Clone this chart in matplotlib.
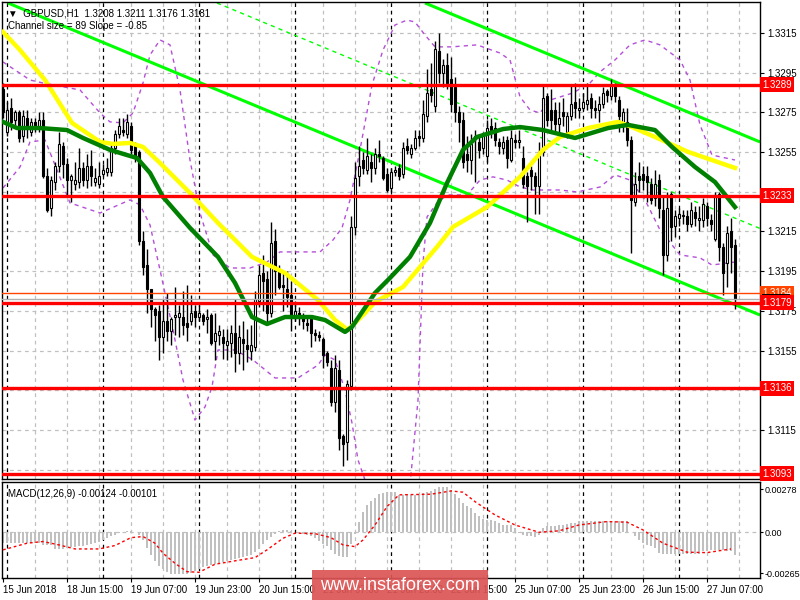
import matplotlib
matplotlib.use("Agg")
import matplotlib.pyplot as plt
from matplotlib.patches import Rectangle
import matplotlib.transforms as mtransforms
import numpy as np

plt.rcParams["font.family"] = ["Liberation Sans", "DejaVu Sans"]
plt.rcParams["font.size"] = 7

# GBPUSD H1 candles, one entry per bar (bar 0 = 15 Jun 23:00)
opens = [1.3287, 1.3265, 1.3277, 1.3271, 1.3275, 1.3263, 1.3272, 1.3265, 1.3270, 1.3267,
         1.3271, 1.3243, 1.3227, 1.3240, 1.3248, 1.3258, 1.3249, 1.3241, 1.3239, 1.3240,
         1.3247, 1.3241, 1.3248, 1.3240, 1.3239, 1.3244, 1.3245, 1.3245, 1.3257, 1.3264,
         1.3266, 1.3264, 1.3268, 1.3258, 1.3255, 1.3210, 1.3198, 1.3186, 1.3176, 1.3175,
         1.3162, 1.3170, 1.3165, 1.3172, 1.3172, 1.3172, 1.3169, 1.3170, 1.3175, 1.3172,
         1.3173, 1.3171, 1.3173, 1.3160, 1.3163, 1.3162, 1.3158, 1.3159, 1.3164, 1.3154,
         1.3161, 1.3158, 1.3155, 1.3157, 1.3180, 1.3194, 1.3191, 1.3174, 1.3210, 1.3195,
         1.3188, 1.3186, 1.3183, 1.3172, 1.3174, 1.3172, 1.3169, 1.3171, 1.3164, 1.3163,
         1.3161, 1.3154, 1.3146, 1.3129, 1.3145, 1.3112, 1.3109, 1.3137, 1.3217, 1.3243,
         1.3251, 1.3246, 1.3250, 1.3247, 1.3254, 1.3252, 1.3244, 1.3237, 1.3245, 1.3247,
         1.3244, 1.3258, 1.3254, 1.3257, 1.3263, 1.3262, 1.3273, 1.3287, 1.3278, 1.3306,
         1.3295, 1.3299, 1.3292, 1.3288, 1.3275, 1.3271, 1.3254, 1.3251, 1.3262, 1.3260,
         1.3257, 1.3253, 1.3268, 1.3267, 1.3260, 1.3257, 1.3261, 1.3251, 1.3261, 1.3260,
         1.3252, 1.3243, 1.3246, 1.3243, 1.3238, 1.3255, 1.3283, 1.3276, 1.3276, 1.3269,
         1.3275, 1.3265, 1.3273, 1.3280, 1.3276, 1.3277, 1.3279, 1.3282, 1.3277, 1.3276,
         1.3279, 1.3286, 1.3283, 1.3288, 1.3281, 1.3269, 1.3270, 1.3261, 1.3230, 1.3243,
         1.3244, 1.3243, 1.3239, 1.3232, 1.3241, 1.3226, 1.3203, 1.3234, 1.3218, 1.3222,
         1.3223, 1.3223, 1.3219, 1.3225, 1.3221, 1.3221, 1.3228, 1.3221, 1.3211, 1.3234,
         1.3207, 1.3199, 1.3215, 1.3208]
highs = [1.3290, 1.3280, 1.3282, 1.3276, 1.3276, 1.3276, 1.3276, 1.3272, 1.3272, 1.3275,
         1.3275, 1.3247, 1.3243, 1.3250, 1.3265, 1.3260, 1.3252, 1.3244, 1.3250, 1.3257,
         1.3250, 1.3254, 1.3256, 1.3247, 1.3250, 1.3249, 1.3252, 1.3260, 1.3266, 1.3272,
         1.3272, 1.3274, 1.3270, 1.3260, 1.3256, 1.3215, 1.3206, 1.3186, 1.3177, 1.3178,
         1.3181, 1.3184, 1.3172, 1.3187, 1.3178, 1.3185, 1.3188, 1.3183, 1.3178, 1.3178,
         1.3174, 1.3176, 1.3174, 1.3174, 1.3168, 1.3166, 1.3166, 1.3168, 1.3181, 1.3168,
         1.3170, 1.3166, 1.3168, 1.3185, 1.3198, 1.3203, 1.3195, 1.3220, 1.3216, 1.3198,
         1.3194, 1.3195, 1.3190, 1.3180, 1.3177, 1.3174, 1.3172, 1.3172, 1.3166, 1.3165,
         1.3162, 1.3155, 1.3150, 1.3153, 1.3150, 1.3113, 1.3140, 1.3223, 1.3250, 1.3258,
         1.3255, 1.3262, 1.3254, 1.3257, 1.3261, 1.3253, 1.3247, 1.3247, 1.3248, 1.3249,
         1.3260, 1.3262, 1.3259, 1.3266, 1.3266, 1.3281, 1.3297, 1.3300, 1.3311, 1.3315,
         1.3302, 1.3305, 1.3303, 1.3293, 1.3278, 1.3275, 1.3263, 1.3264, 1.3266, 1.3263,
         1.3265, 1.3271, 1.3272, 1.3270, 1.3262, 1.3263, 1.3263, 1.3266, 1.3264, 1.3266,
         1.3258, 1.3245, 1.3248, 1.3245, 1.3260, 1.3289, 1.3285, 1.3287, 1.3280, 1.3280,
         1.3282, 1.3275, 1.3289, 1.3290, 1.3282, 1.3285, 1.3290, 1.3285, 1.3281, 1.3283,
         1.3288, 1.3287, 1.3292, 1.3290, 1.3283, 1.3277, 1.3277, 1.3263, 1.3245, 1.3250,
         1.3248, 1.3248, 1.3242, 1.3246, 1.3244, 1.3233, 1.3235, 1.3235, 1.3226, 1.3227,
         1.3226, 1.3226, 1.3230, 1.3228, 1.3228, 1.3232, 1.3230, 1.3224, 1.3235, 1.3235,
         1.3209, 1.3218, 1.3222, 1.3211]
lows = [1.3272, 1.3263, 1.3266, 1.3268, 1.3260, 1.3260, 1.3262, 1.3263, 1.3265, 1.3265,
        1.3242, 1.3225, 1.3223, 1.3236, 1.3245, 1.3242, 1.3233, 1.3230, 1.3236, 1.3237,
        1.3238, 1.3237, 1.3238, 1.3238, 1.3237, 1.3243, 1.3243, 1.3243, 1.3254, 1.3262,
        1.3263, 1.3262, 1.3254, 1.3250, 1.3208, 1.3193, 1.3174, 1.3167, 1.3160, 1.3150,
        1.3154, 1.3160, 1.3158, 1.3163, 1.3162, 1.3163, 1.3160, 1.3168, 1.3167, 1.3170,
        1.3168, 1.3164, 1.3158, 1.3150, 1.3158, 1.3151, 1.3150, 1.3152, 1.3144, 1.3148,
        1.3145, 1.3149, 1.3150, 1.3155, 1.3177, 1.3175, 1.3168, 1.3172, 1.3183, 1.3186,
        1.3175, 1.3177, 1.3165, 1.3170, 1.3168, 1.3166, 1.3165, 1.3157, 1.3160, 1.3160,
        1.3146, 1.3147, 1.3127, 1.3124, 1.3105, 1.3097, 1.3100, 1.3135, 1.3213, 1.3238,
        1.3244, 1.3244, 1.3240, 1.3244, 1.3250, 1.3241, 1.3235, 1.3235, 1.3243, 1.3241,
        1.3242, 1.3254, 1.3252, 1.3256, 1.3258, 1.3260, 1.3270, 1.3280, 1.3275, 1.3290,
        1.3288, 1.3287, 1.3275, 1.3270, 1.3260, 1.3247, 1.3245, 1.3244, 1.3240, 1.3252,
        1.3254, 1.3250, 1.3262, 1.3258, 1.3254, 1.3254, 1.3247, 1.3250, 1.3257, 1.3257,
        1.3237, 1.3220, 1.3236, 1.3224, 1.3224, 1.3253, 1.3268, 1.3265, 1.3264, 1.3262,
        1.3268, 1.3262, 1.3271, 1.3272, 1.3272, 1.3276, 1.3276, 1.3272, 1.3272, 1.3270,
        1.3277, 1.3280, 1.3281, 1.3280, 1.3265, 1.3265, 1.3258, 1.3204, 1.3228, 1.3235,
        1.3236, 1.3230, 1.3229, 1.3228, 1.3222, 1.3193, 1.3200, 1.3210, 1.3212, 1.3218,
        1.3219, 1.3215, 1.3217, 1.3218, 1.3215, 1.3217, 1.3218, 1.3215, 1.3210, 1.3200,
        1.3183, 1.3187, 1.3194, 1.3176]
closes = [1.3275, 1.3276, 1.3270, 1.3275, 1.3262, 1.3273, 1.3267, 1.3270, 1.3267, 1.3271,
          1.3243, 1.3226, 1.3241, 1.3248, 1.3259, 1.3249, 1.3241, 1.3243, 1.3241, 1.3247,
          1.3241, 1.3248, 1.3243, 1.3242, 1.3243, 1.3246, 1.3247, 1.3257, 1.3264, 1.3268,
          1.3265, 1.3270, 1.3256, 1.3252, 1.3210, 1.3197, 1.3186, 1.3176, 1.3173, 1.3162,
          1.3170, 1.3165, 1.3171, 1.3173, 1.3174, 1.3168, 1.3167, 1.3174, 1.3172, 1.3174,
          1.3170, 1.3172, 1.3159, 1.3164, 1.3165, 1.3159, 1.3160, 1.3164, 1.3154, 1.3162,
          1.3159, 1.3156, 1.3158, 1.3181, 1.3193, 1.3190, 1.3174, 1.3209, 1.3195, 1.3187,
          1.3187, 1.3182, 1.3172, 1.3175, 1.3172, 1.3170, 1.3168, 1.3164, 1.3163, 1.3162,
          1.3153, 1.3149, 1.3129, 1.3146, 1.3111, 1.3108, 1.3138, 1.3217, 1.3242, 1.3248,
          1.3247, 1.3253, 1.3247, 1.3254, 1.3253, 1.3242, 1.3236, 1.3245, 1.3246, 1.3243,
          1.3257, 1.3256, 1.3257, 1.3262, 1.3262, 1.3274, 1.3285, 1.3284, 1.3307, 1.3295,
          1.3299, 1.3290, 1.3279, 1.3275, 1.3270, 1.3250, 1.3251, 1.3259, 1.3263, 1.3256,
          1.3264, 1.3267, 1.3266, 1.3261, 1.3258, 1.3260, 1.3252, 1.3262, 1.3260, 1.3261,
          1.3239, 1.3238, 1.3243, 1.3238, 1.3255, 1.3282, 1.3271, 1.3271, 1.3269, 1.3272,
          1.3273, 1.3273, 1.3279, 1.3277, 1.3277, 1.3280, 1.3281, 1.3277, 1.3276, 1.3279,
          1.3285, 1.3284, 1.3289, 1.3283, 1.3273, 1.3275, 1.3261, 1.3231, 1.3239, 1.3241,
          1.3241, 1.3240, 1.3231, 1.3239, 1.3227, 1.3203, 1.3227, 1.3217, 1.3223, 1.3224,
          1.3223, 1.3219, 1.3226, 1.3222, 1.3222, 1.3229, 1.3222, 1.3219, 1.3233, 1.3207,
          1.3194, 1.3214, 1.3207, 1.3181]

yellow_bars = [0, 4.25, 10.5, 17.25, 24.25, 27.5, 31.75, 35, 39.25, 46.75, 53.75, 62.25, 70.5,
               78.75, 83, 86.25, 90.5, 93, 100, 108.5, 112.5, 121, 129.25, 135, 139.25,
               146.25, 153.75, 157.25, 163, 171.25, 183]
yellow_vals = [1.33155, 1.33064, 1.32913, 1.32697, 1.32601, 1.32591, 1.32596, 1.32576, 1.32495,
               1.32344, 1.32193, 1.32022, 1.31941, 1.31805, 1.31704, 1.31654, 1.31739, 1.31795,
               1.31870, 1.32072, 1.32173, 1.32273, 1.32425, 1.32561, 1.32626, 1.32671, 1.32702,
               1.32676, 1.32626, 1.32551, 1.32470]
green_bars = [0, 3.5, 9.25, 16, 20, 26.75, 31, 33.5, 36.75, 40, 46.75, 53.75, 58, 62.25, 66,
              70.5, 77.25, 80.5, 85.5, 87.25, 93, 96.75, 101.75, 106.75, 111, 115, 118.5, 125,
              129.25, 135, 143, 151.25, 156.25, 163, 167.25, 173, 178, 183]
green_vals = [1.32702, 1.32671, 1.32671, 1.32661, 1.32621, 1.32561, 1.32535, 1.32520, 1.32445,
              1.32324, 1.32168, 1.32022, 1.31891, 1.31719, 1.31684, 1.31719, 1.31719, 1.31704,
              1.31644, 1.31669, 1.31840, 1.31916, 1.32022, 1.32193, 1.32394, 1.32561, 1.32626,
              1.32666, 1.32676, 1.32661, 1.32621, 1.32671, 1.32687, 1.32661, 1.32576, 1.32475,
              1.32399, 1.32273]

upper_bars = [0, 6.75, 10, 19.25, 24.25, 26.75, 30, 32.5, 35, 36.75, 39.25, 41.75, 44.25,
              46.75, 49.25, 52.5, 56.75, 61.75, 66, 69.25, 74.25, 79.25, 82.5, 84.75, 86.75,
              89.25, 92.25, 95, 98, 101, 103, 105.5, 108, 112.25, 118.5, 124.25, 126.75,
              129.25, 131.75, 134.25, 136.75, 142.5, 146.75, 149.25, 153, 156.75, 160.5,
              164.25, 169.25, 171.75, 174.25, 177.25, 183]
upper_vals = [1.33004, 1.32913, 1.32898, 1.32863, 1.32747, 1.32702, 1.32697, 1.32747, 1.32898,
              1.33039, 1.33115, 1.33090, 1.32863, 1.32510, 1.32243, 1.32032, 1.31966, 1.31966,
              1.31996, 1.32047, 1.32047, 1.32047, 1.32107, 1.32168, 1.32309, 1.32561, 1.32888,
              1.33064, 1.33190, 1.33215, 1.33205, 1.33140, 1.33080, 1.33080, 1.33090, 1.33049,
              1.33014, 1.32828, 1.32762, 1.32747, 1.32812, 1.32848, 1.32898, 1.32954, 1.33014,
              1.33090, 1.33115, 1.33090, 1.33014, 1.32913, 1.32687, 1.32535, 1.32510]
lower_bars = [0, 4.25, 6.75, 10.5, 13, 16.75, 24.25, 31.75, 34.25, 36.75, 39.25, 42.5, 45, 48,
              50.5, 52.25, 53.75, 58, 62.5, 68, 73.75, 78.75, 80.5, 83, 85.5, 87.25, 88.75,
              90.5, 94.25, 101.75, 103.75, 105, 106, 108.5, 111, 116, 119.25, 122.5, 126,
              129.25, 132.5, 139.25, 143.5, 149.25, 153, 156.75, 160.5, 164.25, 169.25,
              174.25, 177.25, 183]
lower_vals = [1.32369, 1.32475, 1.32601, 1.32611, 1.32485, 1.32294, 1.32243, 1.32309, 1.32284,
              1.32183, 1.31956, 1.31654, 1.31402, 1.31200, 1.31266, 1.31367, 1.31553, 1.31553,
              1.31503, 1.31412, 1.31412, 1.31477, 1.31528, 1.31503, 1.31352, 1.31185, 1.30999,
              1.30898, 1.30873, 1.30873, 1.31301, 1.31991, 1.32223, 1.32294, 1.32334, 1.32334,
              1.32409, 1.32425, 1.32409, 1.32374, 1.32359, 1.32359, 1.32349, 1.32374, 1.32435,
              1.32409, 1.32309, 1.32158, 1.32032, 1.32017, 1.31981, 1.31996]

# channel (two parallel lines plus the dashed mid line), end points
chan_low_bars = [1.25, 189.25]
chan_low_vals = [1.33301, 1.31729]
chan_up_bars = [105.5, 189.25]
chan_up_vals = [1.33301, 1.32601]
chan_mid_bars = [53.5, 189.25]
chan_mid_vals = [1.33301, 1.32165]

# horizontal levels
red_levels = [1.3289, 1.3233, 1.3179, 1.3136, 1.3093]
orange_level = 1.3184
bid_level = 1.3181

# MACD histogram, one value per bar
macd_hist = [-0.00071, -0.00071, -0.00071, -0.00071, -0.00071, -0.00071, -0.00071, -0.00071,
             -0.00071, -0.00071, -0.00084, -0.00084, -0.00084, -0.00110, -0.00110, -0.00110,
             -0.00104, -0.00097, -0.00097, -0.00091, -0.00091, -0.00084, -0.00078, -0.00071,
             -0.00065, -0.00052, -0.00039, -0.00026, -0.00019, -0.00006, 0.0, 0.00006, 0.00006,
             0.0, -0.00019, -0.00052, -0.00104, -0.00149, -0.00188, -0.00220, -0.00239,
             -0.00259, -0.00272, -0.00272, -0.00272, -0.00272, -0.00272, -0.00265, -0.00252,
             -0.00239, -0.00226, -0.00220, -0.00214, -0.00207, -0.00201, -0.00194, -0.00188,
             -0.00181, -0.00175, -0.00168, -0.00162, -0.00155, -0.00149, -0.00129, -0.00110,
             -0.00078, -0.00052, -0.00032, -0.00013, 0.00006, 0.00013, 0.00013, 0.00006, 0.0,
             -0.00006, -0.00013, -0.00019, -0.00026, -0.00039, -0.00058, -0.00078, -0.00091,
             -0.00116, -0.00142, -0.00155, -0.00162, -0.00162, -0.00078, -0.00013, 0.00065,
             0.00129, 0.00175, 0.00201, 0.00220, 0.00246, 0.00252, 0.00259, 0.00259, 0.00259,
             0.00239, 0.00239, 0.00239, 0.00239, 0.00239, 0.00239, 0.00252, 0.00259, 0.00265,
             0.00278, 0.00291, 0.00291, 0.00291, 0.00272, 0.00246, 0.00220, 0.00188, 0.00168,
             0.00155, 0.00123, 0.00104, 0.00084, 0.00078, 0.00078, 0.00071, 0.00058, 0.00045,
             0.00045, 0.00045, 0.00026, -0.00006, -0.00019, -0.00026, -0.00026, -0.00032,
             -0.00019, 0.00026, 0.00039, 0.00039, 0.00039, 0.00045, 0.00045, 0.00052, 0.00058,
             0.00058, 0.00071, 0.00071, 0.00071, 0.00071, 0.00071, 0.00071, 0.00071, 0.00071,
             0.00071, 0.00071, 0.00071, 0.00071, 0.00071, 0.0, -0.00026, -0.00052, -0.00071,
             -0.00084, -0.00091, -0.00104, -0.00136, -0.00142, -0.00142, -0.00142, -0.00142,
             -0.00142, -0.00142, -0.00142, -0.00142, -0.00142, -0.00142, -0.00123, -0.00123,
             -0.00116, -0.00116, -0.00116, -0.00116, -0.00123, -0.00123, -0.00149]
signal_bars = [0, 6, 10, 14, 18, 24, 28, 32, 35, 38, 40, 43, 46, 49, 53, 58, 63, 66, 70, 73, 78,
               82, 85, 88, 90, 93, 96, 99, 107, 112, 115, 118, 123, 128, 134, 139, 144, 151, 156,
               160, 165, 171, 176, 182]
signal_vals = [-0.00114, -0.00071, -0.00060, -0.00082, -0.00108, -0.00108, -0.00086, -0.00035,
               -0.00028, -0.00071, -0.00136, -0.00201, -0.00255, -0.00259, -0.00207, -0.00185,
               -0.00164, -0.00114, -0.00039, -0.00006, -0.00009, -0.00035, -0.00082, -0.00093,
               -0.00050, 0.00047, 0.00166, 0.00242, 0.00246, 0.00267, 0.00259, 0.00198, 0.00112,
               0.00047, 0.0, 0.00009, 0.00047, 0.00069, 0.00065, 0.00015, -0.00071, -0.00129,
               -0.00132, -0.00108]

price_ticks = [1.3315, 1.3295, 1.3275, 1.3255, 1.3215, 1.3195, 1.3175, 1.3155, 1.3115]
grid_prices = [1.3315, 1.3295, 1.3275, 1.3255, 1.3235, 1.3215, 1.3195, 1.3175, 1.3155,
               1.3135, 1.3115, 1.3095]
macd_ticks = [0.00278, 0.0, -0.00265]
macd_tick_labels = ["0.00278", "0.00", "-0.00265"]
time_bars = [0, 16, 32, 48, 64, 80, 96, 112, 128, 144, 160, 176]
time_labels = ["15 Jun 2018", "18 Jun 15:00", "19 Jun 07:00", "19 Jun 23:00", "20 Jun 15:00",
               "21 Jun 07:00", "21 Jun 23:00", "22 Jun 15:00", "25 Jun 07:00", "25 Jun 23:00",
               "26 Jun 15:00", "27 Jun 07:00"]
day_breaks = [1, 25, 49, 73, 97, 121, 145, 169]

W, H = 800, 600
fig = plt.figure(figsize=(8, 6), dpi=100)
fig.patch.set_facecolor("white")
ax = fig.add_axes([2 / W, 1 - 479 / H, 758 / W, 477 / H])
ax2 = fig.add_axes([2 / W, 1 - 578 / H, 758 / W, 96 / H])

for a in (ax, ax2):
    a.set_xlim(-0.25, 189.25)
    for s in a.spines.values():
        s.set_linewidth(1.0)
        s.set_color("black")
    for b in range(8, 190, 8):
        a.axvline(b, color="#c0c0c0", lw=0.9, ls=(0, (3, 3)), zorder=0)
    for b in day_breaks:
        a.axvline(b, color="black", lw=0.9, ls=(0, (3, 3)), zorder=0.5)
    a.tick_params(axis="both", labelsize=7, length=3, width=0.8, pad=2, colors="black")
    a.yaxis.tick_right()

ax.set_ylim(1.30903, 1.33306)
for p in grid_prices:
    ax.axhline(p, color="#c0c0c0", lw=0.9, ls=(0, (3, 3)), zorder=0)
ax.set_yticks(price_ticks)
ax.set_yticklabels([f"{p:.4f}" for p in price_ticks])
ax.set_xticks([])

# bands
ax.plot(upper_bars, upper_vals, color="#b44fd8", lw=1, ls=(0, (3, 3)), zorder=1)
ax.plot(lower_bars, lower_vals, color="#b44fd8", lw=1, ls=(0, (3, 3)), zorder=1)

# channel
ax.plot(chan_low_bars, chan_low_vals, color="#00ff00", lw=2.2, zorder=2, solid_capstyle="butt")
ax.plot(chan_up_bars, chan_up_vals, color="#00ff00", lw=2.2, zorder=2, solid_capstyle="butt")
ax.plot(chan_mid_bars, chan_mid_vals, color="#00ff00", lw=1, ls=(0, (3, 3)), zorder=2)

# candles
idx = np.arange(len(closes))
o = np.array(opens)
c = np.array(closes)
up = c >= o
ax.vlines(idx, lows, highs, color="black", lw=1, zorder=3)
body = np.maximum(np.abs(c - o), 0.00004)
ax.bar(idx, body, bottom=np.minimum(o, c), width=0.62,
       color=np.where(up, "white", "black"), edgecolor="black", lw=0.8, zorder=4)

# moving averages
ax.plot(yellow_bars, yellow_vals, color="#ffff00", lw=3.2, zorder=5)
ax.plot(green_bars, green_vals, color="#008000", lw=3.2, zorder=5)

# levels
for lv in red_levels:
    ax.axhline(lv, color="#ff0000", lw=2.4, zorder=6)
ax.axhline(orange_level, color="#ff4500", lw=1, zorder=6)
ax.axhline(bid_level, color="#b0b0b0", lw=1, zorder=6)

tr = mtransforms.blended_transform_factory(ax.transAxes, ax.transData)
lab = dict(transform=tr, fontsize=7, ha="left", va="center", clip_on=False, zorder=10)
ax.text(1.003, orange_level, f"{orange_level:.4f}", color="white",
        bbox=dict(boxstyle="square,pad=0.25", fc="#ff4500", ec="none"), **lab)
ax.text(1.003, bid_level, "          ", color="white",
        bbox=dict(boxstyle="square,pad=0.02", fc="black", ec="none"), **lab)
for lv in red_levels:
    ax.text(1.003, lv, f"{lv:.4f}", color="white",
            bbox=dict(boxstyle="square,pad=0.25", fc="#ff0000", ec="none"), **lab)

ax.text(0.008, 0.986, "\u25bc  GBPUSD,H1  1.3208 1.3211 1.3176 1.3181", transform=ax.transAxes,
        fontsize=7, va="top", ha="left", zorder=11)
ax.text(0.008, 0.961, "Channel size = 89 Slope = -0.85", transform=ax.transAxes,
        fontsize=7, va="top", ha="left", zorder=11)

# MACD panel
ax2.set_ylim(-0.00296, 0.00325)
ax2.axhline(0, color="#c0c0c0", lw=0.9, ls=(0, (3, 3)), zorder=0)
ax2.bar(np.arange(len(macd_hist)), macd_hist, width=0.6, color="#c0c0c0", zorder=2)
ax2.plot(signal_bars, signal_vals, color="#ff0000", lw=1, ls=(0, (2, 2)), zorder=3)
ax2.set_yticks(macd_ticks)
ax2.set_yticklabels(macd_tick_labels)
ax2.tick_params(axis="y", labelsize=6.5, length=2, pad=1)
ax2.set_xticks(time_bars)
ax2.set_xticklabels(time_labels, ha="left")
ax2.text(0.008, 0.93, "MACD(12,26,9) -0.00124 -0.00101", transform=ax2.transAxes,
         fontsize=7, va="top", ha="left")

# watermark
fig.patches.append(Rectangle((312 / W, 0), 176 / W, 30 / H, transform=fig.transFigure,
                             fc="#dd5555", alpha=0.92, ec="none", zorder=10))
fig.text(400 / W, 14 / H, "www.instaforex.com", color="white", fontsize=13,
         ha="center", va="center", zorder=11)

fig.savefig("out.png", dpi=100)
